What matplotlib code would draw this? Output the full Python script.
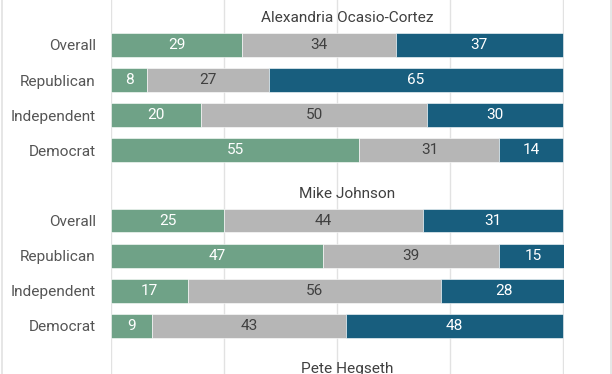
import matplotlib
matplotlib.use('Agg')
import matplotlib.pyplot as plt
from matplotlib.lines import Line2D

plt.rcParams['font.family'] = ['Roboto', 'DejaVu Sans']

groups = ['Alexandria Ocasio-Cortez', 'Mike Johnson', 'Pete Hegseth']
parties = ['Overall', 'Republican', 'Independent', 'Democrat']

# favorable / no opinion / unfavorable (percent)
aoc_fav = [29, 8, 20, 55]
aoc_neu = [34, 27, 50, 31]
aoc_unf = [37, 65, 30, 14]

mj_fav = [25, 47, 17, 9]
mj_neu = [44, 39, 56, 43]
mj_unf = [31, 15, 28, 48]

data = [(aoc_fav, aoc_neu, aoc_unf), (mj_fav, mj_neu, mj_unf)]

colors = ['#6FA287', '#B6B6B6', '#185E7E']
text_colors = ['white', '#404040', 'white']
fs = 11.1

fig = plt.figure(figsize=(6.12, 3.74), dpi=100)
ax = fig.add_axes([111 / 612, 0, (564 - 111) / 612, 1])

row_gap = 5
yticks, ylabels = [], []
for g, series in enumerate(data):
    ys = [g * row_gap + i for i in range(len(parties))]
    left = [0] * len(parties)
    for vals, c, tc in zip(series, colors, text_colors):
        ax.barh(ys, vals, left=left, height=0.68, color=c,
                edgecolor='white', linewidth=0.4, zorder=2)
        for y, v, l in zip(ys, vals, left):
            ax.text(l + v / 2, y, str(v), ha='center', va='center',
                    color=tc, fontsize=fs, zorder=3)
        left = [l + v for l, v in zip(left, vals)]
    yticks += ys
    ylabels += parties

# group titles
for g, name in enumerate(groups):
    ax.text(52.2, g * row_gap - 0.76, name, ha='center', va='center',
            fontsize=fs, color='#404040', zorder=3)

ax.set_xlim(0, 100.3)
ax.set_ylim(9.37, -1.28)
ax.set_yticks(yticks)
ax.set_yticklabels(ylabels)
ax.tick_params(axis='y', length=0, pad=11, labelsize=fs, labelcolor='#555555')
ax.set_xticks([0, 25, 50, 75, 100])
ax.tick_params(axis='x', length=0, labelbottom=False)
ax.xaxis.grid(True, color='#E2E2E2', linewidth=1)
ax.set_axisbelow(True)
for s in ax.spines.values():
    s.set_visible(False)

# light frame at the figure edges
for xf in [1.5 / 612, 610.5 / 612]:
    fig.add_artist(Line2D([xf, xf], [0, 1], color='#E2E2E2', linewidth=1.2,
                          transform=fig.transFigure))

fig.savefig('out.png', dpi=100, facecolor='white')
